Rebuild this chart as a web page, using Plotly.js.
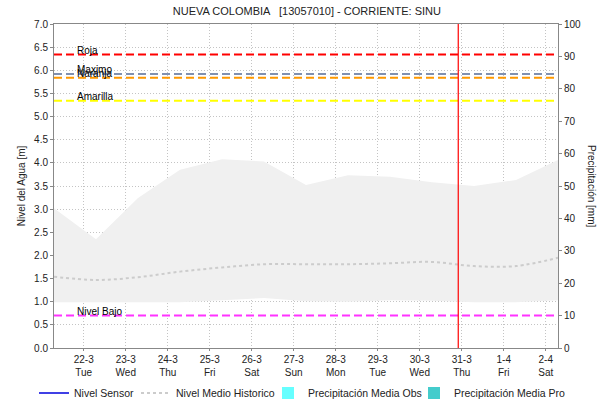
<!DOCTYPE html>
<html>
<head>
<meta charset="utf-8">
<script src="https://cdn.plot.ly/plotly-3.0.1.min.js"></script>
<style>html,body{margin:0;padding:0;background:#fff;}#chart{width:603px;height:404px;}</style>
</head>
<body>
<div id="chart"></div>
<script>
// ---- data ----
const bandDates = ['2022-03-21 07:00','2022-03-22 07:00','2022-03-23 07:00','2022-03-24 07:00','2022-03-25 07:00','2022-03-26 07:00','2022-03-27 07:00','2022-03-28 07:00','2022-03-29 07:00','2022-03-30 07:00','2022-03-31 07:00','2022-04-01 07:00','2022-04-02 07:00'];
const bandUpper = [3.02, 2.35, 3.24, 3.85, 4.08, 4.03, 3.52, 3.73, 3.70, 3.58, 3.50, 3.63, 4.06];
const bandLower = [0.99, 0.99, 0.99, 0.99, 1.03, 1.08, 1.01, 1.00, 1.03, 1.02, 0.99, 0.99, 1.03];
const histMean  = [1.54, 1.47, 1.53, 1.65, 1.74, 1.81, 1.81, 1.81, 1.83, 1.86, 1.77, 1.77, 1.95];
const sensorDates = [];
const sensorLevel = [];
const precipObsDates = [];
const precipObs = [];
const precipProDates = [];
const precipPro = [];
const thresholdNames  = ['Roja', 'Maximo', 'Naranja', 'Amarilla', 'Nivel Bajo'];
const thresholdValues = [6.34, 5.92, 5.84, 5.34, 0.70];
const thresholdColors = ['#ff0000', '#8090b0', '#ff9900', '#ffff00', '#ff33ff'];
const xStart = '2022-03-21 07:00';
const xEnd   = '2022-04-02 07:00';
const nowDate = '2022-03-30 22:00';
const tickDates  = ['2022-03-22','2022-03-23','2022-03-24','2022-03-25','2022-03-26','2022-03-27','2022-03-28','2022-03-29','2022-03-30','2022-03-31','2022-04-01','2022-04-02'];
const tickLabels = ['22-3<br>Tue','23-3<br>Wed','24-3<br>Thu','25-3<br>Fri','26-3<br>Sat','27-3<br>Sun','28-3<br>Mon','29-3<br>Tue','30-3<br>Wed','31-3<br>Thu','1-4<br>Fri','2-4<br>Sat'];

const FONT = 'Liberation Sans, Arial, sans-serif';
// empty series still need a placeholder point to appear in the legend
const orNull = a => (a.length ? a : [null]);
const traces = [];
traces.push({x: bandDates, y: bandLower, type: 'scatter', mode: 'lines', line: {width: 0, color: '#f0f0f0'}, showlegend: false, hoverinfo: 'skip'});
traces.push({x: bandDates, y: bandUpper, type: 'scatter', mode: 'lines', fill: 'tonexty', fillcolor: '#f0f0f0', line: {width: 0, color: '#f0f0f0'}, showlegend: false, hoverinfo: 'skip'});
traces.push({x: orNull(sensorDates), y: orNull(sensorLevel), type: 'scatter', mode: 'lines', name: 'Nivel Sensor', line: {color: '#0000dd', width: 1.5}, showlegend: true, legend: 'legend'});
traces.push({x: bandDates, y: histMean, type: 'scatter', mode: 'lines', name: 'Nivel Medio Historico', line: {color: '#cccccc', width: 2, dash: '3px,3px', shape: 'spline'}, legend: 'legend2'});
traces.push({x: orNull(precipObsDates), y: orNull(precipObs), type: 'bar', name: 'Precipitación Media Obs', marker: {color: '#66ffff'}, yaxis: 'y2', showlegend: true, legend: 'legend3'});
traces.push({x: orNull(precipProDates), y: orNull(precipPro), type: 'bar', name: 'Precipitación Media Pro', marker: {color: '#44cccc'}, yaxis: 'y2', showlegend: true, legend: 'legend4'});
thresholdValues.forEach((v, i) => {
  traces.push({x: [xStart, xEnd], y: [v, v], type: 'scatter', mode: 'lines', line: {color: thresholdColors[i], width: 2, dash: '8px,4px'}, showlegend: false, hoverinfo: 'skip'});
});
traces.push({x: [nowDate, nowDate], y: [0, 7], type: 'scatter', mode: 'lines', line: {color: '#ff0000', width: 1.2}, showlegend: false, hoverinfo: 'skip'});

const annotations = thresholdNames.map((n, i) => ({
  text: n, xref: 'paper', yref: 'y', x: 0.042, y: thresholdValues[i], xanchor: 'left', yanchor: 'bottom', yshift: -3,
  showarrow: false, font: {family: FONT, size: 10, color: '#000'}
}));
annotations.push({text: 'Precipitación [mm]', xref: 'paper', yref: 'paper', x: 1.0, xshift: 34, y: 0.5, textangle: 90,
  showarrow: false, xanchor: 'center', yanchor: 'middle', font: {family: FONT, size: 10, color: '#222'}});

const legendBase = (xpx) => ({orientation: 'h', x: xpx / 603, xanchor: 'left', xref: 'container', y: 0.027, yanchor: 'middle', yref: 'container',
  font: {family: FONT, size: 10.5, color: '#222'}, bgcolor: 'rgba(0,0,0,0)', itemwidth: 30, borderwidth: 0});

const layout = {
  width: 603, height: 404,
  margin: {l: 54, r: 45, t: 24, b: 56, pad: 0, autoexpand: false},
  paper_bgcolor: '#fff', plot_bgcolor: '#fff',
  font: {family: FONT, size: 10, color: '#222'},
  title: {text: 'NUEVA COLOMBIA   [13057010] - CORRIENTE: SINU', font: {family: FONT, size: 11, color: '#222'}, x: 0.509, xanchor: 'center', y: 0.972, yanchor: 'middle', yref: 'container'},
  showlegend: true,
  legend: legendBase(34),
  legend2: legendBase(136),
  legend3: legendBase(268),
  legend4: legendBase(414),
  barmode: 'group',
  xaxis: {type: 'date', range: [xStart, xEnd], tickmode: 'array', tickvals: tickDates, ticktext: tickLabels,
    showgrid: true, gridcolor: '#c4c4c4', griddash: '1px,2px', gridwidth: 1,
    showline: true, linecolor: '#888', linewidth: 1, mirror: true, ticks: 'outside', ticklen: 2, tickcolor: '#888',
    tickfont: {family: FONT, size: 10, color: '#222'}, zeroline: false, fixedrange: true, automargin: false},
  yaxis: {range: [0, 7], dtick: 0.5, tick0: 0, tickformat: '.1f', showgrid: true, gridcolor: '#c4c4c4', griddash: '1px,2px',
    showline: true, linecolor: '#888', ticks: 'outside', ticklen: 3, tickcolor: '#888', zeroline: false, automargin: false,
    title: {text: 'Nivel del Agua [m]', font: {family: FONT, size: 10, color: '#222'}, standoff: 6},
    tickfont: {family: FONT, size: 10, color: '#222'}},
  yaxis2: {range: [0, 100], dtick: 10, overlaying: 'y', side: 'right', showgrid: false, showline: true, linecolor: '#888',
    ticks: 'outside', ticklen: 3, tickcolor: '#888', zeroline: false, automargin: false, tickfont: {family: FONT, size: 10, color: '#222'}},
  annotations: annotations
};
Plotly.newPlot('chart', traces, layout, {displayModeBar: false, staticPlot: true});
</script>
</body>
</html>
